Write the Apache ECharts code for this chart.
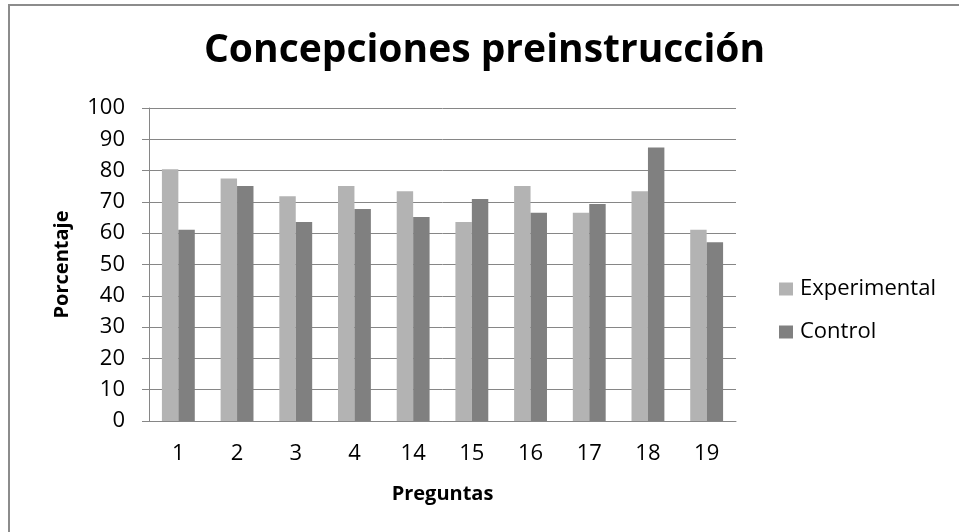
<!DOCTYPE html>
<html lang="es">
<head>
<meta charset="UTF-8">
<title>Concepciones preinstrucción</title>
<script src="https://cdn.jsdelivr.net/npm/echarts@6/dist/echarts.min.js"></script>
<style>
    html, body { margin: 0; padding: 0; background: #fff; }
    #container { width: 959px; height: 532px; }
</style>
</head>
<body>
<div id="container"></div>
<script type="text/javascript">
    // preguntas
    var preguntas = ['1', '2', '3', '4', '14', '15', '16', '17', '18', '19'];
    // porcentajes
    var experimental = [80.4, 77.5, 71.8, 75.1, 73.4, 63.6, 75.1, 66.5, 73.4, 61.1];
    var control = [61.1, 75.1, 63.6, 67.7, 65.2, 70.9, 66.5, 69.3, 87.4, 57.1];

    var font = '"Open Sans", sans-serif';
    var gridColor = '#868686';

    var myChart = echarts.init(document.getElementById('container'), null, { renderer: 'canvas' });

    var option = {
        backgroundColor: '#fff',
        animation: false,
        // marco
        graphic: [{
            type: 'rect',
            shape: { x: 9, y: 5, width: 1000, height: 600 },
            style: { fill: 'none', stroke: '#8c8c8c', lineWidth: 2 },
            silent: true
        }],
        title: {
            text: 'Concepciones preinstrucción',
            left: 204,
            top: 31,
            padding: 0,
            textStyle: { fontFamily: font, fontWeight: 'bold', fontSize: 39, color: '#000' }
        },
        legend: {
            orient: 'vertical',
            left: 779,
            top: 278,
            padding: 0,
            itemGap: 21,
            itemWidth: 14,
            itemHeight: 13,
            icon: 'rect',
            textStyle: { fontFamily: font, fontSize: 22, color: '#000', padding: [0, 0, 0, 2] },
            data: ['Experimental', 'Control']
        },
        grid: { left: 149, right: 223, top: 108, bottom: 111 },
        xAxis: {
            type: 'category',
            data: preguntas,
            name: 'Preguntas',
            nameLocation: 'middle',
            nameGap: 63,
            nameTextStyle: { fontFamily: font, fontWeight: 'bold', fontSize: 20, color: '#000' },
            axisLine: { lineStyle: { color: gridColor, width: 1 } },
            axisTick: { show: false },
            axisLabel: { fontFamily: font, fontSize: 22, color: '#000', margin: 22 }
        },
        yAxis: {
            type: 'value',
            min: 0,
            max: 100,
            interval: 10,
            name: 'Porcentaje',
            nameLocation: 'middle',
            nameGap: 77,
            nameTextStyle: { fontFamily: font, fontWeight: 'bold', fontSize: 20, color: '#000' },
            axisLine: { show: true, lineStyle: { color: gridColor, width: 1 } },
            axisTick: { show: true, length: 7, lineStyle: { color: gridColor } },
            axisLabel: { fontFamily: font, fontSize: 22, color: '#000', margin: 24 },
            splitLine: { lineStyle: { color: gridColor, width: 1 } }
        },
        series: [
            {
                name: 'Experimental',
                type: 'bar',
                data: experimental,
                barGap: '0%',
                barCategoryGap: '44%',
                itemStyle: { color: '#b3b3b3' }
            },
            {
                name: 'Control',
                type: 'bar',
                data: control,
                itemStyle: { color: '#808080' }
            }
        ]
    };
    myChart.setOption(option);
    window.addEventListener('resize', myChart.resize);
</script>
</body>
</html>
